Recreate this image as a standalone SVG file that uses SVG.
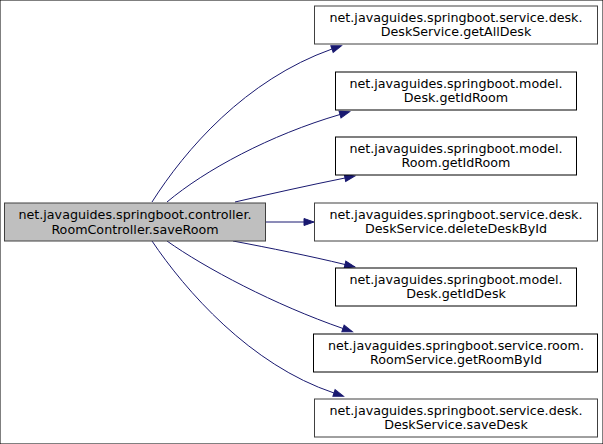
<svg xmlns="http://www.w3.org/2000/svg" width="603" height="444" viewBox="0 0 603 444">
<style>
rect{fill:#fff;stroke:#000;stroke-width:1}
rect.g{stroke:#404040}
rect.main{fill:#bfbfbf;stroke:#404040}
text{font-family:"DejaVu Sans",sans-serif;font-size:12.7px;text-anchor:middle;fill:#000}
.e path{fill:none;stroke:#191970;stroke-width:1}
</style>
<defs>
<marker id="ah" markerUnits="userSpaceOnUse" markerWidth="12" markerHeight="10" refX="0" refY="4" viewBox="0 -4 12 8" orient="auto" overflow="visible">
<path d="M0,-3.5 L10,0 L0,3.5 Z" fill="#191970" stroke="#191970" stroke-width="1" transform="translate(0,4)"/>
</marker>
</defs>
<rect x="0" y="0" width="603" height="444" fill="#fff" stroke="none"/>
<g class="e" id="connectors">
<path d="M152,202 C185,150 245,80 332,49" marker-end="url(#ah)"/>
<path d="M167,202 C205,170 270,135 340,114.5" marker-end="url(#ah)"/>
<path d="M235,202 C270,194 310,185 345,178" marker-end="url(#ah)"/>
<path d="M265,222 L304,222" marker-end="url(#ah)"/>
<path d="M233,241 C270,248 310,256 345,264.5" marker-end="url(#ah)"/>
<path d="M167,241 C205,268 275,305 343,328.5" marker-end="url(#ah)"/>
<path d="M152,241 C185,290 250,365 334,393" marker-end="url(#ah)"/>
</g>
<g id="main">
<rect class="main" x="4.5" y="203" width="261" height="38"/>
<text x="135" y="218.5">net.javaguides.springboot.controller.</text>
<text x="135" y="233.5">RoomController.saveRoom</text>
</g>
<g id="n1">
<rect class="g" x="314.5" y="6" width="283" height="38"/>
<text x="456" y="21.5">net.javaguides.springboot.service.desk.</text>
<text x="456" y="36">DeskService.getAllDesk</text>
</g>
<g id="n2">
<rect x="335.5" y="72" width="241" height="38"/>
<text x="456" y="87.5">net.javaguides.springboot.model.</text>
<text x="456" y="102">Desk.getIdRoom</text>
</g>
<g id="n3">
<rect x="335.5" y="137" width="241" height="38"/>
<text x="456" y="152.5">net.javaguides.springboot.model.</text>
<text x="456" y="167">Room.getIdRoom</text>
</g>
<g id="n4">
<rect class="g" x="314.5" y="203" width="283" height="38"/>
<text x="456" y="218.5">net.javaguides.springboot.service.desk.</text>
<text x="456" y="233">DeskService.deleteDeskById</text>
</g>
<g id="n5">
<rect x="335.5" y="268" width="241" height="38"/>
<text x="456" y="283.5">net.javaguides.springboot.model.</text>
<text x="456" y="298">Desk.getIdDesk</text>
</g>
<g id="n6">
<rect x="313.5" y="334" width="284" height="38"/>
<text x="456" y="349.5">net.javaguides.springboot.service.room.</text>
<text x="456" y="364">RoomService.getRoomById</text>
</g>
<g id="n7">
<rect class="g" x="314.5" y="399" width="283" height="38"/>
<text x="456" y="414.5">net.javaguides.springboot.service.desk.</text>
<text x="456" y="429">DeskService.saveDesk</text>
</g>
</svg>
